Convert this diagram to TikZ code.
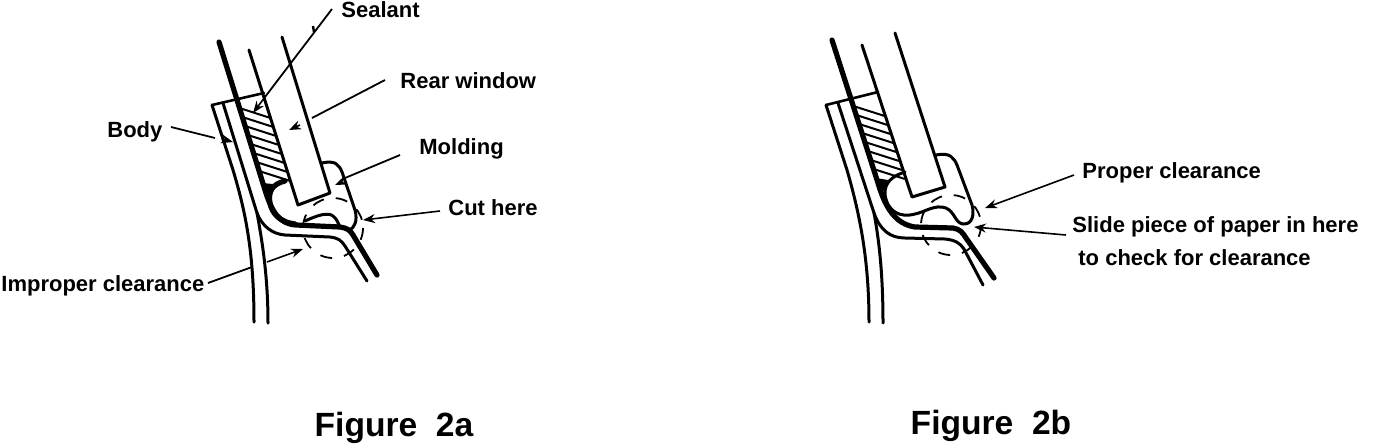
\documentclass[tikz,border=0pt]{standalone}
\usepackage{fontspec}
\setmainfont{Liberation Sans}
\usetikzlibrary{arrows.meta}
\tikzset{
  lab/.style={font=\bfseries\fontsize{11}{13}\selectfont,anchor=west,inner sep=0pt,text=black},
  figcap/.style={font=\bfseries\fontsize{16.8}{20}\selectfont,anchor=center,inner sep=0pt,text=black},
  thin line/.style={line width=1.3pt,line join=round,line cap=round},
  mid line/.style={line width=1.5pt,line join=round,line cap=round},
  thick line/.style={line width=2.6pt,line join=round,line cap=round},
  lead/.style={line width=0.9pt},
  dart/.style={line width=0.8pt,-{Stealth[length=6pt,width=4.5pt]}},
  circ/.style={line width=0.9pt,dash pattern=on 6pt off 6pt},
  hatchl/.style={line width=1pt}
}
\begin{document}
\begin{tikzpicture}[x=0.5pt,y=-0.5pt]
\useasboundingbox (0,0) rectangle (1376,446);
% labels
\node[lab] (sealant) at (341,10) {Sealant};
\node[lab] (rear) at (400,81) {Rear window};
\node[lab] (body) at (107,132) {Body};
\node[lab] (molding) at (419,149) {Molding};
\node[lab] (cut) at (448,208) {Cut here};
\node[lab] (improper) at (1,286) {Improper clearance};
\node[lab] (proper) at (1082,173) {Proper clearance};
\node[lab] (slide) at (1072,227) {Slide piece of paper in here};
\node[lab] (check) at (1078,258) {to check for clearance};
\node[figcap] (figa) at (394,428) {Figure\ \ 2a};
\node[figcap] (figb) at (991,426) {Figure\ \ 2b};
% free ends of the leaders
\coordinate (sA) at (332,9); \coordinate (sM) at (314,32); \coordinate (sN) at (313,26); \coordinate (sB) at (253,113);
\coordinate (rA) at (385,80); \coordinate (rB) at (312,118); \coordinate (rC) at (300,125); \coordinate (rD) at (289,130);
\coordinate (bA) at (171,127); \coordinate (bB) at (215,138); \coordinate (bC) at (222,139); \coordinate (bD) at (233,142);
\coordinate (mA) at (400,155); \coordinate (mB) at (345,178); \coordinate (mC) at (342,182); \coordinate (mD) at (335,185);
\coordinate (cA) at (440,211); \coordinate (cD) at (363,220);
\coordinate (iA) at (208,283); \coordinate (iB) at (252,267); \coordinate (iC) at (267,262); \coordinate (iD) at (303,249);
\coordinate (pA) at (1074,175); \coordinate (pD) at (985,208);
\coordinate (qA) at (1066,235); \coordinate (qD) at (974,227);
% ---------------- Figure 2a
\foreach \y in {108,117,126,135,144,153,162,171} {
  \draw[hatchl] ({219+(\y-42)*0.31},\y) -- ({249+(\y+10-50)*0.316},{\y+10});
}
\draw[thick line] (219,42) -- (265,190) .. controls (272,213) and (280,224) .. (296,225) -- (340,227) .. controls (347,228) and (350,230) .. (353,235) -- (377,275);
\draw[mid line] (249,50) -- (298,205) -- (330,193) -- (282,37);
\draw[thin line] (212,105) -- (264,93);
\draw[mid line] (212,105) -- (233,170) .. controls (245,210) and (254,250) .. (254,322);
\draw[mid line] (223,103) -- (257,213) .. controls (263,245) and (268,280) .. (268,323);
\draw[mid line] (257,213) .. controls (262,226) and (272,234) .. (285,235) -- (330,237) .. controls (338,238) and (341,240) .. (345,246) -- (367,281);
\draw[mid line] (322,163) .. controls (336,160) and (339,165) .. (342,172) -- (355,210) .. controls (358,222) and (354,227) .. (350,230);
\draw[thick line] (285,181) .. controls (272,184) and (268,192) .. (270,203) .. controls (272,214) and (280,222) .. (295,224);
\draw[mid line] (305,221) .. controls (318,215) and (328,212) .. (333,216) .. controls (337,219) and (338,223) .. (340,227);
\fill (262,183) -- (273,184) -- (268,196) -- cycle;
\draw[circ] (333,228) circle (30);
% ---------------- Figure 2b
\foreach \y in {106,115,124,133,142,151,160,169} {
  \draw[hatchl] ({832+(\y-40)*0.322},\y) -- ({862+(\y+10-45)*0.32},{\y+10});
}
\draw[thick line] (832,40) -- (878,183) .. controls (885,207) and (895,224) .. (915,227) -- (953,228) .. controls (960,229) and (963,233) .. (966,238) -- (994,278);
\draw[mid line] (862,45) -- (912,197) -- (945,187) -- (895,33);
\draw[thin line] (826,105) -- (878,92);
\draw[mid line] (826,105) -- (847,170) .. controls (860,215) and (869,260) .. (869,322);
\draw[mid line] (838,103) -- (874,213) .. controls (880,245) and (883,280) .. (883,323);
\draw[mid line] (874,213) .. controls (880,230) and (890,238) .. (905,238) -- (945,239) .. controls (955,240) and (960,243) .. (964,249) -- (983,285);
\draw[mid line] (936,155) .. controls (950,152) and (954,158) .. (957,165) -- (972,205) .. controls (976,220) and (968,225) .. (963,224) .. controls (955,223) and (955,212) .. (946,208) .. controls (935,204) and (925,212) .. (915,214) .. controls (900,218) and (888,212) .. (885,195) .. controls (884,183) and (892,176) .. (905,172);
\fill (876,178) -- (888,180) -- (882,195) -- cycle;
\draw[circ] (951,225) circle (30);
% ---------------- leaders
\draw[lead] (sA) -- (265,97);
\draw[line width=1.2pt] (sN) -- (sM);
\draw[dart] (265,97) -- (sB);
\draw[lead] (rA) -- (rB); \draw[dart] (rC) -- (rD);
\draw[lead] (bA) -- (bB); \draw[dart] (bC) -- (bD);
\draw[lead] (mA) -- (mB); \draw[dart] (mC) -- (mD);
\draw[dart] (cA) -- (cD);
\draw[lead] (iA) -- (iB); \draw[dart] (iC) -- (iD);
\draw[dart] (pA) -- (pD);
\draw[dart] (qA) -- (qD);
\end{tikzpicture}
\end{document}
